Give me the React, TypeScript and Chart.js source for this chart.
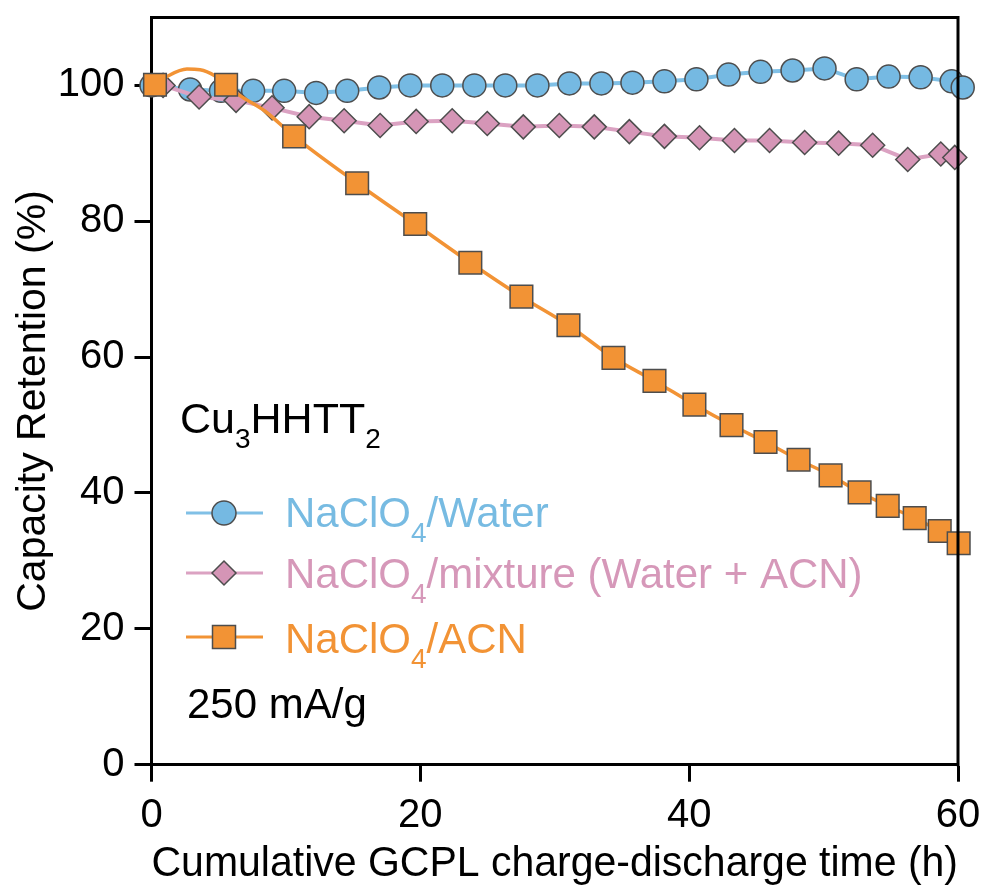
import React, { useEffect, useRef } from 'react';
import { Chart, registerables } from 'chart.js';

Chart.register(...registerables);

// ---------- data ----------
const xTickValues = [0, 20, 40, 60];
const yTickValues = [0, 20, 40, 60, 80, 100];

const waterTime = [0, 2.87, 5.17, 7.56, 9.87, 12.25, 14.56, 16.94, 19.25, 21.63, 24.02, 26.32, 28.71, 31.09, 33.47, 35.78, 38.16, 40.54, 42.93, 45.31, 47.69, 50.07, 52.46, 54.84, 57.22, 59.53, 60.35];
const waterRetention = [100, 99.4, 99.2, 99.2, 99.2, 98.9, 99.2, 99.7, 100.0, 100.0, 100.0, 100.0, 100.0, 100.3, 100.3, 100.4, 100.6, 100.9, 101.6, 102.0, 102.2, 102.5, 100.9, 101.3, 101.2, 100.6, 99.7];

const mixtureTime = [0.86, 3.54, 6.29, 8.97, 11.73, 14.33, 17.01, 19.69, 22.37, 24.98, 27.66, 30.34, 32.94, 35.55, 38.16, 40.77, 43.37, 45.98, 48.59, 51.12, 53.65, 56.26, 58.72, 59.76];
const mixtureRetention = [100.0, 98.3, 97.8, 96.7, 95.4, 94.8, 94.1, 94.7, 94.8, 94.4, 93.9, 94.1, 93.9, 93.2, 92.5, 92.3, 91.9, 91.9, 91.6, 91.5, 91.2, 89.1, 89.9, 89.4];

const acnTime = [0.26, 5.55, 10.61, 15.30, 19.62, 23.72, 27.52, 31.02, 34.37, 37.42, 40.39, 43.15, 45.68, 48.14, 50.52, 52.68, 54.77, 56.78, 58.64, 60.05];
const acnRetention = [100.1, 100.1, 92.5, 85.6, 79.6, 73.9, 68.9, 64.7, 59.9, 56.5, 53.0, 50.0, 47.5, 44.9, 42.6, 40.1, 38.1, 36.3, 34.4, 32.6];

// continuous ACN trace (includes the early bump seen between the markers)
const acnTraceTime = [0.26, 1.15, 2.64, 3.61, 4.73, 5.55, 6.59, 8.45, 10.61, 15.30, 19.62, 23.72, 27.52, 31.02, 34.37, 37.42, 40.39, 43.15, 45.68, 48.14, 50.52, 52.68, 54.77, 56.78, 58.64, 60.05];
const acnTraceRetention = [100.1, 101.3, 102.4, 102.3, 101.4, 100.1, 98.5, 96.2, 92.5, 85.6, 79.6, 73.9, 68.9, 64.7, 59.9, 56.5, 53.0, 50.0, 47.5, 44.9, 42.6, 40.1, 38.1, 36.3, 34.4, 32.6];

const seriesLabels = ['NaClO4/Water', 'NaClO4/mixture (Water + ACN)', 'NaClO4/ACN'];
const xTitle = 'Cumulative GCPL charge-discharge time (h)';
const yTitle = 'Capacity Retention (%)';

// ---------- styles ----------
const FONT = "'Liberation Sans', Arial, Helvetica, sans-serif";
const BLUE = '#75b9e2';
const BLUE_LINE = '#80c0e6';
const PINK = '#d595b6';
const PINK_LINE = '#dba2c2';
const ORANGE = '#f29335';
const EDGE = '#4d4d4d';

const pts = (xs: number[], ys: number[]) => xs.map((x, i) => ({ x, y: ys[i] }));

type Part = { t: string; sub?: boolean };

function drawRich(ctx: CanvasRenderingContext2D, parts: Part[], x: number, baseline: number, size: number, subSize: number, subDrop: number, color: string) {
  ctx.fillStyle = color;
  ctx.textAlign = 'left';
  ctx.textBaseline = 'alphabetic';
  let cx = x;
  for (const p of parts) {
    ctx.font = `${p.sub ? subSize : size}px ${FONT}`;
    ctx.fillText(p.t, cx, p.sub ? baseline + subDrop : baseline);
    cx += ctx.measureText(p.t).width;
  }
}

function drawMarker(ctx: CanvasRenderingContext2D, kind: string, x: number, y: number, fill: string) {
  ctx.beginPath();
  if (kind === 'circle') {
    ctx.arc(x, y, 12, 0, Math.PI * 2);
  } else if (kind === 'diamond') {
    ctx.moveTo(x - 12, y);
    ctx.lineTo(x, y - 12);
    ctx.lineTo(x + 12, y);
    ctx.lineTo(x, y + 12);
    ctx.closePath();
  } else {
    ctx.rect(x - 11.5, y - 11.5, 23, 23);
  }
  ctx.fillStyle = fill;
  ctx.fill();
  ctx.strokeStyle = EDGE;
  ctx.lineWidth = 1.5;
  ctx.stroke();
}

const overlayPlugin = {
  id: 'overlay',
  afterDatasetsDraw(chart: any) {
    const { ctx, chartArea: a } = chart;
    ctx.save();
    // top and right frame lines
    ctx.strokeStyle = '#000';
    ctx.lineWidth = 3;
    ctx.lineCap = 'square';
    ctx.beginPath();
    ctx.moveTo(a.left, a.top);
    ctx.lineTo(a.right, a.top);
    ctx.lineTo(a.right, a.bottom);
    ctx.stroke();
    ctx.lineCap = 'butt';

    // y-axis title
    ctx.save();
    ctx.translate(34, 401);
    ctx.rotate(-Math.PI / 2);
    ctx.font = `41px ${FONT}`;
    ctx.fillStyle = '#000';
    ctx.textAlign = 'center';
    ctx.textBaseline = 'middle';
    ctx.fillText(yTitle, 0, 0);
    ctx.restore();

    // sample label
    drawRich(ctx, [{ t: 'Cu' }, { t: '3', sub: true }, { t: 'HHTT' }, { t: '2', sub: true }], 180, 433, 43, 28, 15, '#000');

    // legend
    const rows = [
      { y: 513, base: 527, kind: 'circle', fill: BLUE, line: BLUE_LINE, text: '#77bbe2', parts: [{ t: 'NaClO' }, { t: '4', sub: true }, { t: '/Water' }] },
      { y: 573, base: 588, kind: 'diamond', fill: PINK, line: PINK_LINE, text: '#d698b9', parts: [{ t: 'NaClO' }, { t: '4', sub: true }, { t: '/mixture (Water + ACN)' }] },
      { y: 637, base: 653, kind: 'square', fill: ORANGE, line: ORANGE, text: ORANGE, parts: [{ t: 'NaClO' }, { t: '4', sub: true }, { t: '/ACN' }] },
    ];
    for (const r of rows) {
      ctx.strokeStyle = r.line;
      ctx.lineWidth = 3;
      ctx.beginPath();
      ctx.moveTo(186, r.y);
      ctx.lineTo(263, r.y);
      ctx.stroke();
      drawMarker(ctx, r.kind, 224, r.y, r.fill);
      drawRich(ctx, r.parts, 285, r.base, 42, 28, 15, r.text);
    }

    // current density
    drawRich(ctx, [{ t: '250 mA/g' }], 187, 718, 42, 28, 0, '#000');
    ctx.restore();
  },
};

export default function App() {
  const ref = useRef<HTMLCanvasElement | null>(null);

  useEffect(() => {
    if (!ref.current) return;
    const chart = new Chart(ref.current, {
      type: 'scatter',
      data: {
        datasets: [
          {
            label: seriesLabels[2],
            data: pts(acnTime, acnRetention),
            showLine: false,
            pointStyle: 'rect',
            pointRadius: 16,
            pointBackgroundColor: ORANGE,
            pointBorderColor: EDGE,
            pointBorderWidth: 1.5,
            clip: false,
            order: 0,
          },
          {
            label: seriesLabels[2] + ' trace',
            data: pts(acnTraceTime, acnTraceRetention),
            showLine: true,
            pointRadius: 0,
            borderColor: ORANGE,
            borderWidth: 3.5,
            cubicInterpolationMode: 'monotone',
            clip: false,
            order: 1,
          },
          {
            label: seriesLabels[1],
            data: pts(mixtureTime, mixtureRetention),
            showLine: false,
            pointStyle: 'rectRot',
            pointRadius: 12,
            pointBackgroundColor: PINK,
            pointBorderColor: EDGE,
            pointBorderWidth: 1.5,
            clip: false,
            order: 2,
          },
          {
            label: seriesLabels[1] + ' trace',
            data: pts(mixtureTime, mixtureRetention),
            showLine: true,
            pointRadius: 0,
            borderColor: PINK_LINE,
            borderWidth: 4,
            clip: false,
            order: 3,
          },
          {
            label: seriesLabels[0],
            data: pts(waterTime, waterRetention),
            showLine: false,
            pointStyle: 'circle',
            pointRadius: 11.5,
            pointBackgroundColor: BLUE,
            pointBorderColor: EDGE,
            pointBorderWidth: 1.5,
            clip: false,
            order: 4,
          },
          {
            label: seriesLabels[0] + ' trace',
            data: pts(waterTime, waterRetention),
            showLine: true,
            pointRadius: 0,
            borderColor: BLUE_LINE,
            borderWidth: 4,
            clip: false,
            order: 5,
          },
        ],
      },
      options: {
        responsive: false,
        devicePixelRatio: 1,
        animation: false,
        events: [],
        layout: { padding: { left: 0, top: 13, right: 27, bottom: 0 } },
        plugins: { legend: { display: false }, tooltip: { enabled: false } },
        scales: {
          x: {
            type: 'linear',
            min: 0,
            max: 60,
            afterBuildTicks: (s: any) => { s.ticks = xTickValues.map((v) => ({ value: v })); },
            afterFit: (s: any) => { s.height = 125.3; s.paddingLeft = 0; s.paddingRight = 0; },
            grid: { display: true, drawOnChartArea: false, drawTicks: true, tickLength: 17, tickWidth: 3, tickColor: '#000' },
            border: { display: true, color: '#000', width: 3 },
            ticks: { color: '#000', font: { family: FONT, size: 40 }, padding: 10, maxRotation: 0 },
            title: { display: true, text: xTitle, color: '#000', font: { family: FONT, size: 42.5 }, padding: { top: 0, bottom: 0 } },
          },
          y: {
            type: 'linear',
            min: 0,
            max: 110,
            afterBuildTicks: (s: any) => { s.ticks = yTickValues.map((v) => ({ value: v })); },
            afterFit: (s: any) => { s.width = 151.5; s.paddingTop = 0; s.paddingBottom = 0; },
            grid: { display: true, drawOnChartArea: false, drawTicks: true, tickLength: 17, tickWidth: 3, tickColor: '#000' },
            border: { display: true, color: '#000', width: 3 },
            ticks: { color: '#000', font: { family: FONT, size: 40 }, padding: 10 },
            title: { display: false, text: yTitle },
          },
        },
      },
      plugins: [overlayPlugin],
    } as any);
    return () => chart.destroy();
  }, []);

  return (
    <div style={{ position: 'absolute', left: 0, top: 0, width: 985, height: 890, background: '#fff' }}>
      <canvas ref={ref} width={985} height={890} style={{ display: 'block' }} />
    </div>
  );
}
